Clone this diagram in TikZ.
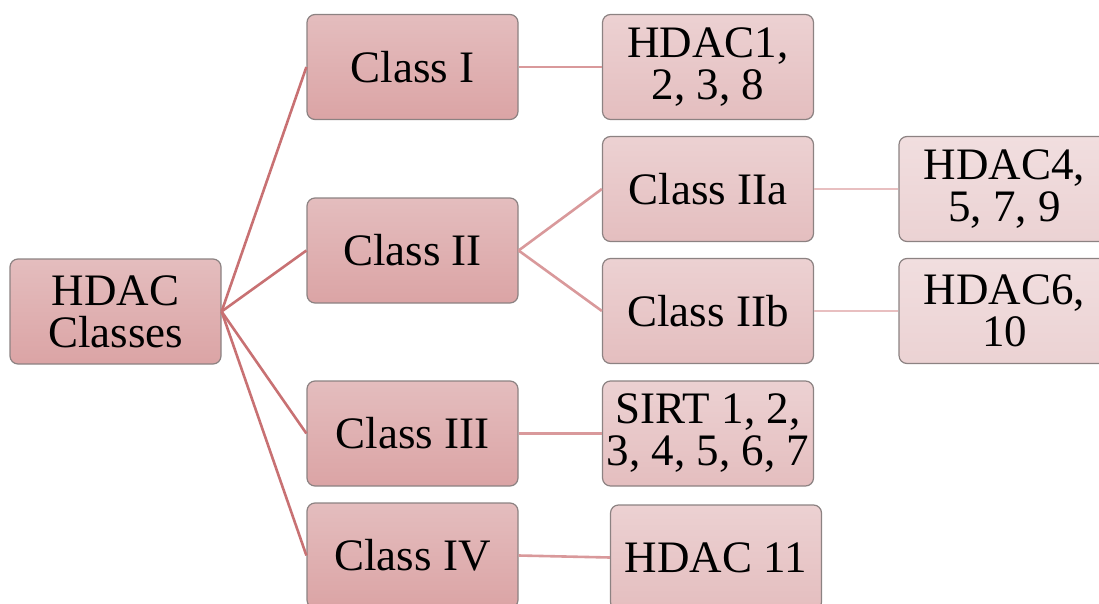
\documentclass[tikz,border=0pt]{standalone}
\usepackage{fontspec}
\setmainfont{Liberation Serif}
\definecolor{lvAtop}{HTML}{E4BDBE}
\definecolor{lvAbot}{HTML}{DBA4A5}
\definecolor{lvBtop}{HTML}{ECD1D2}
\definecolor{lvBbot}{HTML}{E4BEBF}
\definecolor{lvCtop}{HTML}{F1DEDF}
\definecolor{lvCbot}{HTML}{EBD2D3}
\definecolor{edgegray}{HTML}{8C8282}
\definecolor{linkA}{HTML}{C87173}
\definecolor{linkB}{HTML}{D9999B}
\definecolor{linkC}{HTML}{E8BFC0}
\begin{document}
\begin{tikzpicture}[x=1pt,y=-1pt,
  box/.style={draw=edgegray, line width=1.2pt, rounded corners=8pt,
    minimum width=211pt, minimum height=105pt, inner sep=0pt,
    align=center, font=\fontsize{45}{42}\selectfont},
  lvA/.style={box, top color=lvAtop, bottom color=lvAbot},
  lvB/.style={box, top color=lvBtop, bottom color=lvBbot},
  lvC/.style={box, top color=lvCtop, bottom color=lvCbot},
  linkone/.style={draw=linkA, line width=2.6pt},
  linktwo/.style={draw=linkB, line width=2.6pt},
  linkthree/.style={draw=linkC, line width=2.6pt}]
\useasboundingbox (0,0) rectangle (1099,604);
\begin{scope}
\clip (0,0) rectangle (1099,604);
% boxes, level by level
\node[lvA] (root) at (115.5,311.5) {HDAC\\Classes};
\node[lvA] (c1) at (412.5,67) {Class I};
\node[lvA] (c2) at (412.5,250.5) {Class II};
\node[lvA] (c3) at (412.5,433.5) {Class III};
\node[lvA] (c4) at (412.5,555.5) {Class IV};
\node[lvB] (h1) at (708,67) {HDAC1,\\2, 3, 8};
\node[lvB] (c2a) at (708,189) {Class IIa};
\node[lvB] (c2b) at (708,311) {Class IIb};
\node[lvB] (sirt) at (708,433.5) {SIRT 1, 2,\\3, 4, 5, 6, 7};
\node[lvB] (h11) at (716,557.5) {HDAC 11};
\node[lvC] (h4) at (1004.5,189) {HDAC4,\\5, 7, 9};
\node[lvC] (h6) at (1004.5,311) {HDAC6,\\10};
% connectors
\draw[linkone] (root.east) -- (c1.west);
\draw[linkone] (root.east) -- (c2.west);
\draw[linkone] (root.east) -- (c3.west);
\draw[linkone] (root.east) -- (c4.west);
\draw[linktwo] (c1.east) -- (h1.west);
\draw[linktwo] (c2.east) -- (c2a.west);
\draw[linktwo] (c2.east) -- (c2b.west);
\draw[linktwo] (c3.east) -- (sirt.west);
\draw[linktwo] (c4.east) -- (h11.west);
\draw[linkthree] (c2a.east) -- (h4.west);
\draw[linkthree] (c2b.east) -- (h6.west);
\end{scope}
\end{tikzpicture}
\end{document}
